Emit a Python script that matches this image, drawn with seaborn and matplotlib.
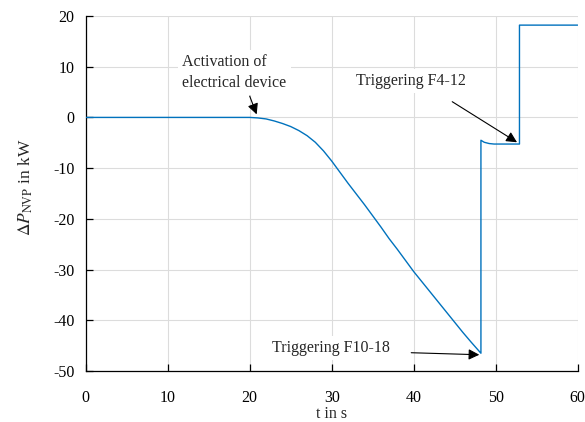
import matplotlib

matplotlib.use("Agg")
import matplotlib.pyplot as plt
import pandas as pd
import seaborn as sns

# time in s and power deviation in kW
t_values = [0, 20, 21, 22, 23, 24, 25, 26, 27, 28, 29, 30, 31, 32, 33, 34, 35,
            36, 37, 38, 39, 40, 41, 42, 43, 44, 45, 46, 47, 48.2,
            48.2, 48.6, 49.2, 49.8, 52.9, 52.9, 60]
p_values = [0, 0, -0.1, -0.3, -0.7, -1.2, -1.8, -2.6, -3.6, -4.9, -6.6, -8.6,
            -10.8, -13.0, -15.1, -17.2, -19.4, -21.6, -23.9, -26.0, -28.2,
            -30.4, -32.4, -34.4, -36.4, -38.4, -40.4, -42.4, -44.3, -46.5,
            -4.5, -4.9, -5.15, -5.25, -5.25, 18.2, 18.2]

x_ticks = [0, 10, 20, 30, 40, 50, 60]
y_ticks = [-50, -40, -30, -20, -10, 0, 10, 20]

sns.set_theme(style="whitegrid")
plt.rcParams["font.family"] = ["Liberation Serif", "DejaVu Serif"]
plt.rcParams["mathtext.fontset"] = "stix"
plt.rcParams["axes.unicode_minus"] = False

data = pd.DataFrame({"t": t_values, "p": p_values})

fig = plt.figure(figsize=(5.85, 4.22), dpi=100)
ax = fig.add_axes([0.1465, 0.1209, 0.8410, 0.8412])

sns.lineplot(data=data, x="t", y="p", sort=False, estimator=None,
             color="#0072BD", linewidth=1.0, ax=ax, zorder=3)

ax.set_xlim(0, 60)
ax.set_ylim(-50, 20)
ax.set_xticks(x_ticks)
ax.set_yticks(y_ticks)
ax.set_facecolor("white")
ax.grid(True, color="#dcdcdc", linewidth=0.8, linestyle="-")
for side in ["top", "right"]:
    ax.spines[side].set_visible(False)
for side in ["left", "bottom"]:
    ax.spines[side].set_visible(True)
    ax.spines[side].set_color("black")
    ax.spines[side].set_linewidth(0.9)
ax.tick_params(direction="in", length=5, width=0.9, colors="black",
               labelsize=11.5, left=True, bottom=True)
ax.tick_params(axis="y", pad=8)
ax.tick_params(axis="x", pad=14)

ax.set_xlabel("t in s", fontsize=11.5, labelpad=0)
ax.set_ylabel(r"$\Delta P_{\mathrm{NVP}}$ in kW", fontsize=12.5)
ax.yaxis.set_label_coords(-0.103, 0.517)

box = dict(boxstyle="square,pad=0.25", facecolor="white", edgecolor="none")
arrow = dict(arrowstyle="-|>", color="black", lw=0.8, mutation_scale=16,
             shrinkA=0, shrinkB=0)

ax.text(11.8, 8.9, "Activation of\nelectrical device", fontsize=11.5,
        ha="left", va="center", bbox=box, zorder=4, linespacing=1.4)
ax.annotate("", xy=(20.85, 0.6), xytext=(20.0, 4.2), arrowprops=arrow, zorder=5)

ax.text(32.95, 7.1, "Triggering F4-12", fontsize=11.5, ha="left",
        va="center", bbox=box, zorder=4)
ax.annotate("", xy=(52.6, -4.9), xytext=(44.7, 3.1), arrowprops=arrow, zorder=5)

ax.text(22.7, -45.4, "Triggering F10-18", fontsize=11.5, ha="left",
        va="center", bbox=box, zorder=4)
ax.annotate("", xy=(48.0, -46.8), xytext=(39.7, -46.4), arrowprops=arrow, zorder=5)

fig.savefig("out.png", dpi=100)
plt.close(fig)
